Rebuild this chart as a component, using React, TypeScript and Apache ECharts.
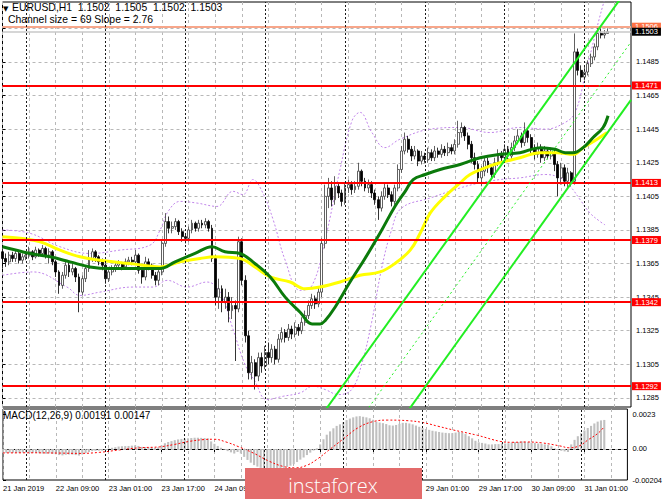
import React, { useEffect, useRef } from "react";
import * as echarts from "echarts";

const SLOTS = 190;
const FONT = "'Liberation Sans', Arial, sans-serif";

const tickLabels = ["21 Jan 2019", "22 Jan 09:00", "23 Jan 01:00", "23 Jan 17:00", "24 Jan 09:00", "25 Jan 01:00", "25 Jan 17:00", "28 Jan 09:00", "29 Jan 01:00", "29 Jan 17:00", "30 Jan 09:00", "31 Jan 01:00"];
// labels fully covered by the logo in the reference
const coveredTickLabels = [5, 6, 7];
const daySeparators = [7, 31, 55, 79, 103, 127, 151, 175];
const priceTicks = [1.1285, 1.1305, 1.1325, 1.1345, 1.1365, 1.1385, 1.1405, 1.1425, 1.1445, 1.1465, 1.1485, 1.1505];
const priceLabels = [1.1285, 1.1305, 1.1325, 1.1345, 1.1365, 1.1385, 1.1405, 1.1425, 1.1445, 1.1465, 1.1485];
const levels = [1.1471, 1.1413, 1.1379, 1.1342, 1.1292];
const highLevel = 1.1506;
const bidLevel = 1.1503;
const macdTicks = [-0.00204, 0, 0.0023];
const macdTickText = ["-0.00204", "0.00", "0.0023"];

const opens = [
  1.1372, 1.1368, 1.1366, 1.137, 1.1368, 1.1371, 1.1367, 1.1369, 1.137, 1.1372,
  1.1369, 1.1373, 1.1371, 1.1374, 1.137, 1.1372, 1.1366, 1.136, 1.1352, 1.1358,
  1.1364, 1.136, 1.1362, 1.1357, 1.1348, 1.1356, 1.1362, 1.1368, 1.1372, 1.1369,
  1.1366, 1.1364, 1.1356, 1.136, 1.1362, 1.1364, 1.1365, 1.1363, 1.1366, 1.1367,
  1.1366, 1.137, 1.1361, 1.1357, 1.1366, 1.1364, 1.1358, 1.1355, 1.136, 1.1377,
  1.139, 1.1386, 1.1387, 1.139, 1.1384, 1.1381, 1.138, 1.1385, 1.1389, 1.1386,
  1.1389, 1.1388, 1.139, 1.1386, 1.1368, 1.1345, 1.135, 1.1342, 1.1345, 1.1337,
  1.134, 1.1338, 1.1378, 1.1355, 1.1322, 1.13, 1.1306, 1.1298, 1.1309, 1.1304,
  1.1312, 1.1309, 1.1314, 1.1308, 1.132, 1.1324, 1.1321, 1.1326, 1.1323, 1.1327,
  1.1325, 1.133, 1.1334, 1.134, 1.1344, 1.1341, 1.1348, 1.1377, 1.1405, 1.141,
  1.1403, 1.1411, 1.1407, 1.1402, 1.141, 1.1412, 1.1409, 1.1411, 1.142, 1.1414,
  1.141, 1.1412, 1.1407, 1.1403, 1.1398, 1.1405, 1.141, 1.1406, 1.1402, 1.141,
  1.1421, 1.1432, 1.1439, 1.1433, 1.1429, 1.1432, 1.1426, 1.1429, 1.1427, 1.1431,
  1.1428, 1.1432, 1.143, 1.1433, 1.1431, 1.1434, 1.1432, 1.1436, 1.1443, 1.1446,
  1.1441, 1.1436, 1.1428, 1.1424, 1.1416, 1.142, 1.1426, 1.1422, 1.1418, 1.1425,
  1.143, 1.1428, 1.1433, 1.1429, 1.1434, 1.1438, 1.1441, 1.1437, 1.1444, 1.144,
  1.1433, 1.143, 1.1434, 1.1428, 1.1432, 1.1429, 1.1431, 1.1424, 1.1416, 1.1422,
  1.1414, 1.1419, 1.1414, 1.1491, 1.148, 1.1476, 1.1479, 1.1484, 1.1488, 1.1494,
  1.1502, 1.1501, 1.1502,
];
const closes = [
  1.1368, 1.1366, 1.137, 1.1368, 1.1371, 1.1367, 1.1369, 1.137, 1.1372, 1.1369,
  1.1373, 1.1371, 1.1374, 1.137, 1.1372, 1.1366, 1.136, 1.1352, 1.1358, 1.1364,
  1.136, 1.1362, 1.1357, 1.1348, 1.1356, 1.1362, 1.1368, 1.1372, 1.1369, 1.1366,
  1.1364, 1.1356, 1.136, 1.1362, 1.1364, 1.1365, 1.1363, 1.1366, 1.1367, 1.1366,
  1.137, 1.1361, 1.1357, 1.1366, 1.1364, 1.1358, 1.1355, 1.136, 1.1377, 1.139,
  1.1386, 1.1387, 1.139, 1.1384, 1.1381, 1.138, 1.1385, 1.1389, 1.1386, 1.1389,
  1.1388, 1.139, 1.1386, 1.1368, 1.1345, 1.135, 1.1342, 1.1345, 1.1337, 1.134,
  1.1338, 1.1378, 1.1355, 1.1322, 1.13, 1.1306, 1.1298, 1.1309, 1.1304, 1.1312,
  1.1309, 1.1314, 1.1308, 1.132, 1.1324, 1.1321, 1.1326, 1.1323, 1.1327, 1.1325,
  1.133, 1.1334, 1.134, 1.1344, 1.1341, 1.1348, 1.1377, 1.1405, 1.141, 1.1403,
  1.1411, 1.1407, 1.1402, 1.141, 1.1412, 1.1409, 1.1411, 1.142, 1.1414, 1.141,
  1.1412, 1.1407, 1.1403, 1.1398, 1.1405, 1.141, 1.1406, 1.1402, 1.141, 1.1421,
  1.1432, 1.1439, 1.1433, 1.1429, 1.1432, 1.1426, 1.1429, 1.1427, 1.1431, 1.1428,
  1.1432, 1.143, 1.1433, 1.1431, 1.1434, 1.1432, 1.1436, 1.1443, 1.1446, 1.1441,
  1.1436, 1.1428, 1.1424, 1.1416, 1.142, 1.1426, 1.1422, 1.1418, 1.1425, 1.143,
  1.1428, 1.1433, 1.1429, 1.1434, 1.1438, 1.1441, 1.1437, 1.1444, 1.144, 1.1433,
  1.143, 1.1434, 1.1428, 1.1432, 1.1429, 1.1431, 1.1424, 1.1416, 1.1422, 1.1414,
  1.1419, 1.1414, 1.1491, 1.148, 1.1476, 1.1479, 1.1484, 1.1488, 1.1494, 1.1502,
  1.1501, 1.1502, 1.1503,
];
const highs = [
  1.1374, 1.1371, 1.1372, 1.1372, 1.1373, 1.1372, 1.1371, 1.1372, 1.1375, 1.1373,
  1.1375, 1.1374, 1.1376, 1.1375, 1.1374, 1.1373, 1.1367, 1.1361, 1.136, 1.1367,
  1.1366, 1.1365, 1.1363, 1.1359, 1.1358, 1.1364, 1.1373, 1.1374, 1.1373, 1.137,
  1.1368, 1.1365, 1.1362, 1.1364, 1.1366, 1.1367, 1.1366, 1.1368, 1.1369, 1.1369,
  1.1373, 1.1371, 1.1363, 1.1369, 1.1368, 1.1365, 1.136, 1.1362, 1.1379, 1.1395,
  1.1393, 1.139, 1.1392, 1.1391, 1.1386, 1.1383, 1.1387, 1.1391, 1.139, 1.1391,
  1.1391, 1.1392, 1.1391, 1.1388, 1.137, 1.1356, 1.1352, 1.135, 1.1348, 1.1345,
  1.1343, 1.1381, 1.138, 1.1358, 1.1325, 1.131, 1.1308, 1.1312, 1.1312, 1.1316,
  1.1318, 1.1317, 1.1316, 1.1323, 1.1327, 1.1326, 1.1329, 1.1328, 1.133, 1.1329,
  1.1333, 1.1337, 1.1343, 1.1347, 1.1346, 1.1351, 1.138, 1.1412, 1.1416, 1.1414,
  1.1417, 1.1413, 1.1409, 1.1413, 1.1415, 1.1414, 1.1414, 1.1425, 1.1421, 1.1416,
  1.1415, 1.1414, 1.1409, 1.1405, 1.1408, 1.1413, 1.1412, 1.1408, 1.1412, 1.1424,
  1.1435, 1.1443, 1.1441, 1.1435, 1.1435, 1.1433, 1.1432, 1.1431, 1.1434, 1.1433,
  1.1435, 1.1434, 1.1436, 1.1435, 1.1437, 1.1436, 1.1439, 1.145, 1.1449, 1.1447,
  1.1443, 1.1438, 1.1431, 1.1426, 1.1423, 1.1428, 1.1428, 1.1424, 1.1428, 1.1433,
  1.1432, 1.1436, 1.1435, 1.1437, 1.1441, 1.1445, 1.1443, 1.1449, 1.1446, 1.1442,
  1.1436, 1.1437, 1.1436, 1.1435, 1.1434, 1.1434, 1.1433, 1.1426, 1.1425, 1.1424,
  1.1422, 1.142, 1.1502, 1.1493, 1.1483, 1.1482, 1.1486, 1.149, 1.1496, 1.1506,
  1.1505, 1.1504, 1.1505,
];
const lows = [
  1.1362, 1.1363, 1.1364, 1.1366, 1.1366, 1.1365, 1.1365, 1.1367, 1.1368, 1.1367,
  1.1368, 1.1369, 1.137, 1.1368, 1.1365, 1.1364, 1.1357, 1.1347, 1.135, 1.1356,
  1.1357, 1.1358, 1.1354, 1.1336, 1.1346, 1.1354, 1.136, 1.1366, 1.1366, 1.1364,
  1.1361, 1.1353, 1.1354, 1.1358, 1.136, 1.1362, 1.1361, 1.1362, 1.1364, 1.1364,
  1.1365, 1.1359, 1.1353, 1.1355, 1.1361, 1.1356, 1.1352, 1.1352, 1.1358, 1.1375,
  1.1383, 1.1383, 1.1385, 1.1382, 1.1378, 1.1377, 1.1378, 1.1383, 1.1384, 1.1384,
  1.1386, 1.1386, 1.1384, 1.1366, 1.134, 1.1338, 1.1336, 1.1338, 1.133, 1.1332,
  1.1307, 1.1336, 1.1352, 1.1318, 1.1296, 1.1296, 1.129, 1.1295, 1.13, 1.1302,
  1.1305, 1.1306, 1.1305, 1.1306, 1.1318, 1.1318, 1.1319, 1.132, 1.1321, 1.1322,
  1.1323, 1.1328, 1.1332, 1.1338, 1.1338, 1.1339, 1.1345, 1.1374, 1.1398, 1.1399,
  1.14, 1.1404, 1.1399, 1.14, 1.1407, 1.1406, 1.1407, 1.1409, 1.1411, 1.1408,
  1.1407, 1.1404, 1.14, 1.1391, 1.1396, 1.1403, 1.1404, 1.1399, 1.14, 1.1408,
  1.1419, 1.143, 1.1431, 1.1426, 1.1427, 1.1423, 1.1424, 1.1425, 1.1425, 1.1426,
  1.1426, 1.1428, 1.1428, 1.1429, 1.1429, 1.143, 1.143, 1.1434, 1.144, 1.1438,
  1.1433, 1.1425, 1.1421, 1.1413, 1.1411, 1.1417, 1.1419, 1.1415, 1.1416, 1.1423,
  1.1425, 1.1426, 1.1427, 1.1427, 1.1432, 1.1436, 1.1434, 1.1435, 1.1437, 1.143,
  1.1427, 1.1428, 1.1425, 1.1426, 1.1427, 1.1427, 1.142, 1.1405, 1.1412, 1.1411,
  1.141, 1.1411, 1.1412, 1.1477, 1.1473, 1.1474, 1.1477, 1.1482, 1.1486, 1.1492,
  1.1499, 1.1499, 1.1502,
];

// indicator lines: [bar index, price]
const greenMA = [
  [0, 1.1375], [8.3, 1.1371], [14.3, 1.1369], [20.3, 1.1366], [26.3, 1.1363], [32.3, 1.1362], [41.4, 1.1362],
  [47.4, 1.1362], [51.9, 1.1366], [57.9, 1.1371], [63, 1.1375], [66.9, 1.1372], [71.4, 1.1371], [75.9, 1.1365],
  [80.5, 1.1357], [85, 1.1345], [89.5, 1.1336], [93.1, 1.1329], [95.5, 1.1329], [97, 1.1331], [100, 1.1339],
  [104.5, 1.1354], [109, 1.1368], [113.5, 1.1383], [118, 1.1399], [121.1, 1.1408], [123.5, 1.1415], [127.1, 1.1418],
  [131.6, 1.1421], [137.6, 1.1424], [143.6, 1.1428], [149.6, 1.143], [155.6, 1.1431], [161.7, 1.1434], [166.2, 1.1433],
  [169.2, 1.1431], [171.6, 1.1431], [174.6, 1.1434], [177.6, 1.144], [180.6, 1.1446], [182.1, 1.1453],
];
const yellowMA = [
  [0, 1.1381], [5.3, 1.138], [11.3, 1.1378], [17.3, 1.1373], [23.3, 1.1369], [29.3, 1.1367], [38.3, 1.1365],
  [47.4, 1.1363], [53.4, 1.1366], [59.4, 1.1368], [63.9, 1.1369], [71.4, 1.1368], [75.9, 1.1363], [80.5, 1.1357],
  [86.5, 1.1354], [91, 1.135], [95.5, 1.1351], [101.5, 1.1354], [107.5, 1.1358], [113.5, 1.136], [118, 1.1365],
  [122.6, 1.1373], [125.6, 1.1383], [128.6, 1.1395], [133.1, 1.1405], [137.6, 1.1413], [140.6, 1.1418],
  [145.1, 1.1422], [149.6, 1.1425], [155.6, 1.1428], [161.7, 1.1431], [166.8, 1.1431], [171.6, 1.143],
  [174.6, 1.1434], [178.8, 1.1439], [181.8, 1.1443],
];
const bbUpper = [
  [0, 1.1385], [8.3, 1.1383], [17.3, 1.1375], [26.3, 1.1371], [35.3, 1.1373], [44.4, 1.1376], [47.4, 1.1385],
  [49.8, 1.1396], [53.4, 1.1402], [58.5, 1.1401], [64.5, 1.1399], [69.3, 1.1408], [72.3, 1.1406], [75.3, 1.1415],
  [78.3, 1.1407], [81.4, 1.1391], [85, 1.1367], [89.5, 1.1349], [93.1, 1.1352], [97, 1.1379], [101.5, 1.1421],
  [105.1, 1.145], [107.5, 1.1455], [111.1, 1.1443], [115, 1.1434], [119.5, 1.1439], [128.6, 1.1445], [137.6, 1.1446],
  [146.6, 1.1443], [155.6, 1.1446], [163.2, 1.1445], [169.2, 1.1449], [172.2, 1.1455], [175.2, 1.1477],
  [178.2, 1.1501], [180.6, 1.1519], [182.1, 1.1528],
];
const bbLower = [
  [0, 1.1358], [9.2, 1.136], [19.4, 1.1351], [23.3, 1.1346], [29.3, 1.1348], [39.2, 1.1351], [45.3, 1.1351],
  [49.5, 1.1355], [55.5, 1.1351], [61.5, 1.1354], [65.4, 1.1348], [69.3, 1.1326], [72.9, 1.1305], [75.9, 1.1295],
  [79.5, 1.1284], [84.4, 1.1286], [89.5, 1.1288], [93.4, 1.1292], [97, 1.129], [101, 1.1287], [105, 1.129],
  [108, 1.1305], [111, 1.133], [114, 1.1362], [117, 1.1385], [120, 1.1398], [128.6, 1.1404], [137.6, 1.141],
  [143.6, 1.1413], [149.6, 1.1415], [155.6, 1.1416], [163.2, 1.1418], [167.7, 1.1416], [170.7, 1.1411],
  [173.7, 1.1403], [176.7, 1.1395], [179.7, 1.139], [181.2, 1.1388],
];
const channelUpper = [[90, 1.12582], [189, 1.15314]];
const channelMiddle = [[90, 1.12237], [189, 1.14969]];
const channelLower = [[90, 1.11892], [189, 1.14624]];

const macdHist = [
  -0.00025, -0.00026, -0.00024, -0.00025, -0.00027, -0.00026, -0.00024, -0.00023, -0.00025, -0.00024,
  -0.00026, -0.00028, -0.0003, -0.00031, -0.00029, -0.00032, -0.00035, -0.0004, -0.00042, -0.00038, -0.00036, -0.00037, -0.0004, -0.00043,
  -0.00036, -0.00028, -0.0002, -0.00014, -0.00012, -0.00011, -0.0001,
  -0.00006, 0.00003, 0.00008, 0.00012, 0.00016, 0.00018, 0.00019, 0.0002, 0.00022, 0.00024,
  0.0002, 0.00014, 0.00013, 0.00012, 0.0001, 0.00008, 0.00011,
  0.00024, 0.00038, 0.00046, 0.00052, 0.00058,
  0.00063, 0.00066, 0.00068, 0.0007, 0.00072, 0.00074, 0.00074, 0.00073, 0.00072, 0.0007,
  0.0005, 0.00034, 0.0002, 0.00008, -0.00004, -0.00014, -0.00022, -0.0003, -0.0002, -0.0003, -0.00052, -0.00072,
  -0.0009, -0.00106, -0.00116, -0.00124, -0.00128, -0.00132, -0.00134, -0.00136, -0.00132, -0.00128, -0.00124, -0.00118, -0.0011, -0.001, -0.00086,
  -0.0007, -0.00056, -0.0004, -0.00024, -0.0001, 0.00004, 0.0003, 0.00064, 0.00094, 0.00116, 0.00136, 0.00152, 0.00162, 0.00176, 0.0019, 0.002, 0.00208, 0.00214, 0.00216, 0.00212, 0.00208,
  0.00202, 0.00192, 0.0018, 0.00174, 0.0017, 0.00164, 0.00156,
  0.00154, 0.00158, 0.00166, 0.00172, 0.00172, 0.00168, 0.00162,
  0.00154, 0.00146, 0.00138, 0.00132, 0.00126, 0.0012,
  0.00116, 0.00112, 0.00108, 0.00106, 0.00104, 0.00104, 0.00108, 0.00112,
  0.00108, 0.00098, 0.00084, 0.0007, 0.00054, 0.00044,
  0.0004, 0.00036, 0.0003, 0.0003, 0.00032, 0.00032, 0.00036, 0.00036,
  0.00038, 0.00042, 0.00046, 0.00046, 0.0005, 0.00048, 0.00046, 0.00042,
  0.0004, 0.00036, 0.00034, 0.0003, 0.00028,
  0.00018, 0.00004, -0.00004, -0.00012, -0.00016, -0.0002,
  0.0003, 0.0006, 0.00084, 0.00104, 0.00122, 0.00138, 0.00152, 0.00168, 0.0018, 0.00188, 0.00191,
];
const macdSignal = [
  [0, -0.00026], [8.3, -0.00025], [17.3, -0.00027], [23.3, -0.00029], [29.3, -0.00022], [35.3, -0.00006],
  [41.4, 0.00008], [47.4, 0.00014], [51.9, 0.0003], [56.4, 0.0005], [60.9, 0.00062], [63.9, 0.00064],
  [67.8, 0.00044], [71.4, 0.00014], [75.9, -0.00028], [80.5, -0.0008], [85, -0.00116], [88.6, -0.00124],
  [91.9, -0.00108], [94.9, -0.0007], [98.5, -0.0001], [103, 0.00066], [107.5, 0.0014], [112, 0.0018],
  [116.5, 0.0019], [122.6, 0.00186], [127.1, 0.00174], [131.6, 0.0015], [136.1, 0.00126], [143.6, 0.0009],
  [150.5, 0.0005], [154.1, 0.00044], [158.6, 0.00046], [163.2, 0.0004], [168.6, 0.0002], [171.3, 0.00008],
  [174.4, 0.0002], [177.1, 0.0006], [180.2, 0.00105], [182, 0.00147],
];

function buildOption(): any {
  const categories = Array.from({ length: SLOTS }, (_, i) => String(i));
  const candleData = opens.map((o, i) => [o, closes[i], lows[i], highs[i]]);
  const gridLine = { color: "#B8B8B8", type: [3, 3], width: 1 };
  const sepLines = {
    symbol: ["none", "none"],
    silent: true,
    precision: 4,
    label: { show: false },
    lineStyle: { color: "#1a1a1a", type: [2, 2], width: 1 },
    data: daySeparators.map((x) => ({ xAxis: x })),
  };
  const levelLabel = (bg: string) => ({
    show: true,
    position: "end",
    distance: 1,
    backgroundColor: bg,
    color: "#ffffff",
    fontSize: 7.5,
    lineHeight: 8,
    fontFamily: FONT,
    padding: [0, 3, 0, 3],
  });
  const levelData: any[] = levels.map((v) => ({
    yAxis: v,
    lineStyle: { color: "#FF0000", width: 2, type: "solid" },
    label: { ...levelLabel("#FF0000"), formatter: v.toFixed(4) },
  }));
  levelData.push({
    yAxis: highLevel,
    lineStyle: { color: "#F7A68A", width: 2, type: "solid" },
    label: { ...levelLabel("#FF7346"), formatter: highLevel.toFixed(4) },
  });
  levelData.push({
    yAxis: bidLevel,
    lineStyle: { color: "#C8C8C8", width: 1.5, type: "solid" },
    label: { ...levelLabel("#000000"), formatter: bidLevel.toFixed(4) },
  });

  const overlay = (data: number[][], color: string, width: number, type: any, z: number, smooth: any) => ({
    type: "line",
    xAxisIndex: 1,
    yAxisIndex: 0,
    data,
    showSymbol: false,
    symbol: "none",
    smooth,
    silent: true,
    z,
    lineStyle: { color, width, type },
  });

  return {
    animation: false,
    backgroundColor: "#ffffff",
    textStyle: { fontFamily: FONT },
    grid: [
      { left: 2.5, right: 34, top: 2, height: 405, show: true, borderColor: "#000", borderWidth: 1 },
      { left: 2.5, right: 34, top: 409, height: 71, show: true, borderColor: "#000", borderWidth: 1 },
    ],
    xAxis: [
      {
        type: "category", gridIndex: 0, data: categories, boundaryGap: false,
        axisLine: { show: false }, axisTick: { show: false }, axisLabel: { show: false },
        splitLine: { show: true, interval: 7, lineStyle: gridLine },
      },
      { type: "value", gridIndex: 0, min: 0, max: SLOTS - 1, show: false },
      {
        type: "category", gridIndex: 1, data: categories, boundaryGap: false,
        axisLine: { show: true, lineStyle: { color: "#000" } },
        axisTick: { show: true, interval: 15, length: 3, lineStyle: { color: "#000" } },
        axisLabel: {
          interval: 15, align: "left", fontSize: 7.5, color: "#000", margin: 4, fontFamily: FONT,
          formatter: (_v: string, i: number) => {
            if (i % 16 !== 0) return "";
            const k = i / 16;
            return coveredTickLabels.includes(k) ? "" : tickLabels[k] || "";
          },
        },
        splitLine: { show: true, interval: 7, lineStyle: gridLine },
      },
      { type: "value", gridIndex: 1, min: 0, max: SLOTS - 1, show: false },
    ],
    yAxis: [
      {
        type: "value", gridIndex: 0, position: "right", min: 1.12796, max: 1.15207,
        axisLine: { show: false },
        axisTick: { show: true, length: 3, customValues: priceTicks, lineStyle: { color: "#000" } },
        axisLabel: {
          customValues: priceLabels, fontSize: 7.5, color: "#000", margin: 5, fontFamily: FONT,
          formatter: (v: number) => v.toFixed(4),
        },
        splitLine: { show: true, lineStyle: gridLine },
      },
      {
        type: "value", gridIndex: 1, position: "right", min: -0.00204, max: 0.00263,
        axisLine: { show: false },
        axisTick: { show: true, length: 3, customValues: macdTicks, lineStyle: { color: "#000" } },
        axisLabel: {
          customValues: macdTicks, fontSize: 7.5, color: "#000", margin: 5, fontFamily: FONT,
          formatter: (v: number) => {
            const k = macdTicks.findIndex((t) => Math.abs(t - v) < 1e-9);
            return k >= 0 ? macdTickText[k] : "";
          },
        },
        splitLine: { show: false },
      },
    ],
    series: [
      {
        type: "candlestick",
        xAxisIndex: 0,
        yAxisIndex: 0,
        data: candleData,
        barWidth: 2.4,
        z: 3,
        silent: true,
        itemStyle: {
          color: "#ffffff", color0: "#000000",
          borderColor: "#3a3a3a", borderColor0: "#000000", borderWidth: 0.8,
        },
        markLine: { symbol: ["none", "none"], silent: true, precision: 4, data: levelData },
      },
      { ...overlay(bbUpper, "#C084EA", 1, [2, 2], 2, 0.4), markLine: sepLines },
      overlay(bbLower, "#C084EA", 1, [2, 2], 2, 0.4),
      overlay(yellowMA, "#FFFF00", 3, "solid", 4, 0.4),
      overlay(greenMA, "#0B7A0B", 3, "solid", 5, 0.4),
      overlay(channelUpper, "#22EE22", 2, "solid", 6, false),
      overlay(channelMiddle, "#22EE22", 1, [2, 3], 6, false),
      overlay(channelLower, "#22EE22", 2, "solid", 6, false),
      {
        type: "bar",
        xAxisIndex: 2,
        yAxisIndex: 1,
        data: macdHist,
        barWidth: 2.1,
        silent: true,
        itemStyle: { color: "#C0C0C0" },
        markLine: {
          symbol: ["none", "none"], silent: true, label: { show: false }, precision: 6,
          lineStyle: { color: "#B8B8B8", type: [3, 3], width: 1 },
          data: [{ yAxis: 0 }],
        },
      },
      {
        type: "line",
        xAxisIndex: 3,
        yAxisIndex: 1,
        data: macdSignal,
        showSymbol: false,
        symbol: "none",
        smooth: 0.4,
        silent: true,
        z: 4,
        lineStyle: { color: "#FF0000", width: 1, type: [2, 2] },
        markLine: sepLines,
      },
    ],
    graphic: [
      { type: "text", x: 3, y: 5, z: 50, style: { text: "▼", fontSize: 7, fill: "#000", fontFamily: "DejaVu Sans" } },
      {
        type: "text", x: 12, y: 2, z: 50,
        style: { text: "EURUSD,H1  1.1502  1.1505  1.1502  1.1503", fontSize: 10.4, fill: "#000", fontFamily: FONT },
      },
      {
        type: "text", x: 8, y: 14, z: 50,
        style: { text: "Channel size = 69 Slope = 2.76", fontSize: 10.4, fill: "#000", fontFamily: FONT },
      },
      {
        type: "text", x: 3, y: 410, z: 50,
        style: { text: "MACD(12,26,9) 0.00191 0.00147", fontSize: 10, fill: "#000", fontFamily: FONT },
      },
      {
        type: "group", z: 100,
        children: [
          { type: "rect", shape: { x: 245, y: 468, width: 177, height: 40 }, style: { fill: "#E36B6B" }, z: 100 },
          {
            type: "text", x: 333, y: 485, z: 101,
            style: {
              text: "instaforex", fontSize: 20, fill: "#ffffff", fontFamily: "'Open Sans', sans-serif",
              fontWeight: 300, textAlign: "center", textVerticalAlign: "middle",
            },
          },
        ],
      },
    ],
  };
}

export default function App() {
  const ref = useRef<HTMLDivElement>(null);
  useEffect(() => {
    if (!ref.current) return;
    const chart = echarts.init(ref.current, undefined, { renderer: "svg" });
    chart.setOption(buildOption());
    return () => chart.dispose();
  }, []);
  return (
    <div
      ref={ref}
      style={{ position: "fixed", left: 0, top: 0, width: 665, height: 499, background: "#fff" }}
    />
  );
}
